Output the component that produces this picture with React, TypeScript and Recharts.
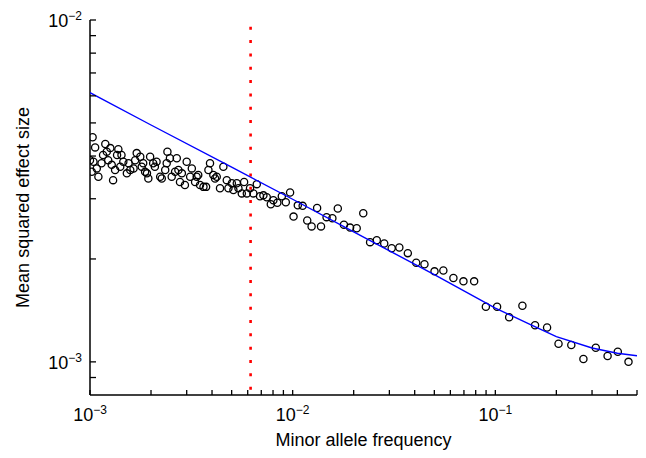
import React from 'react';
import { ScatterChart, Scatter, XAxis, YAxis, ReferenceLine } from 'recharts';

// binned minor allele frequency vs. mean squared effect size
const mafValues = [
  0.00103, 0.00106, 0.00119, 0.00126, 0.00138, 0.001, 0.00104, 0.00102, 0.0011, 0.00108,
  0.00114, 0.00116, 0.00121, 0.00123, 0.00128, 0.0013, 0.00133, 0.00136, 0.00143, 0.00146,
  0.00141, 0.00152, 0.00155, 0.00158, 0.00164, 0.00167, 0.0017, 0.00177, 0.0018, 0.00183,
  0.00187, 0.00191, 0.00194, 0.00198, 0.00205, 0.00209, 0.00213, 0.00222, 0.00226, 0.00235,
  0.00239, 0.00241, 0.00248, 0.00253, 0.00263, 0.00268, 0.00273, 0.00278, 0.00284, 0.00294,
  0.003, 0.00312, 0.00318, 0.0033, 0.00336, 0.00342, 0.00349, 0.00363, 0.00374, 0.00384,
  0.00391, 0.00406, 0.00414, 0.00422, 0.00438, 0.00455, 0.00473, 0.00482, 0.00501, 0.0051,
  0.0053, 0.0054, 0.00561, 0.00576, 0.00594, 0.00616, 0.0064, 0.00665, 0.0069, 0.00717,
  0.00745, 0.0078, 0.00803, 0.0084, 0.00884, 0.00925, 0.00971, 0.0101, 0.0106, 0.0112,
  0.0118, 0.0124, 0.0132, 0.0138, 0.0147, 0.0157, 0.0167, 0.0179, 0.0192, 0.0207,
  0.0223, 0.0241, 0.026, 0.0283, 0.0308, 0.0336, 0.037, 0.0407, 0.0447, 0.0501,
  0.0554, 0.0621, 0.0696, 0.0786, 0.0898, 0.102, 0.117, 0.136, 0.157, 0.18,
  0.205, 0.237, 0.272, 0.313, 0.358, 0.402, 0.454,
];

const effectValues = [
  0.00454, 0.00424, 0.00434, 0.00422, 0.00419, 0.00389, 0.00385, 0.0036, 0.00348, 0.00368,
  0.00381, 0.00403, 0.00412, 0.00389, 0.00377, 0.0034, 0.00364, 0.00403, 0.00403, 0.00385,
  0.00372, 0.00356, 0.00381, 0.00364, 0.00368, 0.00389, 0.00408, 0.00398, 0.00372, 0.00381,
  0.0036, 0.00356, 0.00344, 0.00398, 0.00381, 0.00372, 0.00385, 0.00348, 0.00344, 0.00364,
  0.00381, 0.00412, 0.00394, 0.00348, 0.0036, 0.00394, 0.00364, 0.00336, 0.00356, 0.00329,
  0.00385, 0.00348, 0.00368, 0.00336, 0.00348, 0.00352, 0.00329, 0.00325, 0.00325, 0.00364,
  0.00381, 0.00352, 0.00344, 0.00348, 0.00322, 0.00372, 0.0034, 0.00322, 0.00333, 0.00318,
  0.00333, 0.00322, 0.00311, 0.00336, 0.00311, 0.00322, 0.00311, 0.00331, 0.00305, 0.00307,
  0.00303, 0.00289, 0.00297, 0.00292, 0.00305, 0.00293, 0.00313, 0.00266, 0.00287, 0.00286,
  0.00259, 0.00249, 0.00282, 0.00249, 0.00265, 0.00263, 0.00281, 0.00252, 0.00247, 0.00246,
  0.00272, 0.00224, 0.00227, 0.00222, 0.00215, 0.00216, 0.00208, 0.00195, 0.00193, 0.00184,
  0.00185, 0.00176, 0.00172, 0.00172, 0.00145, 0.00145, 0.00135, 0.00146, 0.00128, 0.00126,
  0.00113, 0.00112, 0.00102, 0.0011, 0.00104, 0.00107, 0.001,
];

// fitted curve
const fitMaf = [0.001, 0.002, 0.005, 0.01, 0.02, 0.05, 0.1, 0.15, 0.2, 0.3, 0.4, 0.5];
const fitEffect = [0.00613, 0.00493, 0.00371, 0.00299, 0.0024, 0.0018, 0.001437, 0.001282, 0.001186, 0.001098, 0.00106, 0.001042];

const cutoffMaf = 0.0062;

const xTicks = [
  0.001, 0.002, 0.003, 0.004, 0.005, 0.006, 0.007, 0.008, 0.009,
  0.01, 0.02, 0.03, 0.04, 0.05, 0.06, 0.07, 0.08, 0.09,
  0.1, 0.2, 0.3, 0.4, 0.5,
];
const yTicks = [0.0009, 0.001, 0.002, 0.003, 0.004, 0.005, 0.006, 0.007, 0.008, 0.009, 0.01];

const points = mafValues.map((x, i) => ({ x, y: effectValues[i] }));
const fitLine = fitMaf.map((x, i) => ({ x, y: fitEffect[i] }));

const FONT = '"Liberation Sans", Arial, Helvetica, sans-serif';

const isDecade = (v: number) => Math.abs(Math.log10(v) - Math.round(Math.log10(v))) < 1e-6;
const expOf = (v: number) => -Math.round(Math.log10(v));

const XTick = ({ x, y, payload }: any) => {
  const v = payload.value;
  return (
    <g>
      <line x1={x} y1={y} x2={x} y2={y - 5} stroke="#000" strokeWidth={1.3} />
      {isDecade(v) && (
        <text x={x} y={y + 26} textAnchor="middle" fontSize={18} fontFamily={FONT} fill="#000">
          10<tspan dy={-7} fontSize={12}>{'\u2212' + expOf(v)}</tspan>
        </text>
      )}
    </g>
  );
};

const YTick = ({ x, y, payload }: any) => {
  const v = payload.value;
  return (
    <g>
      <line x1={x} y1={y} x2={x + 6} y2={y} stroke="#000" strokeWidth={1.3} />
      {isDecade(v) && (
        <text x={x - 8} y={y + 7} textAnchor="end" fontSize={18} fontFamily={FONT} fill="#000">
          10<tspan dy={-7} fontSize={12}>{'\u2212' + expOf(v)}</tspan>
        </text>
      )}
    </g>
  );
};

const Ring = ({ cx, cy }: any) => (
  <circle cx={cx} cy={cy} r={3.6} fill="none" stroke="#000" strokeWidth={1.3} />
);

const NoDot = () => <g />;

export default function App() {
  return (
    <div style={{ position: 'absolute', left: 0, top: 0, width: 646, height: 458, background: '#fff' }}>
      <ScatterChart width={646} height={458} margin={{ top: 20, right: 9, bottom: 13, left: 10 }}>
        <XAxis
          type="number"
          dataKey="x"
          scale="log"
          domain={[0.001, 0.5]}
          allowDataOverflow
          ticks={xTicks}
          interval={0}
          tick={<XTick />}
          tickLine={false}
          tickSize={0}
          tickMargin={0}
          height={50}
          axisLine={{ stroke: '#000', strokeWidth: 1.5 }}
          label={() => (
            <text x={363.5} y={446} textAnchor="middle" fontSize={18} fontFamily={FONT} fill="#000">
              Minor allele frequency
            </text>
          )}
        />
        <YAxis
          type="number"
          dataKey="y"
          scale="log"
          domain={[0.0008, 0.01]}
          allowDataOverflow
          ticks={yTicks}
          interval={0}
          tick={<YTick />}
          tickLine={false}
          tickSize={0}
          tickMargin={0}
          width={80}
          axisLine={{ stroke: '#000', strokeWidth: 1.5 }}
          label={() => (
            <text
              x={29}
              y={207.5}
              transform="rotate(-90, 29, 207.5)"
              textAnchor="middle"
              fontSize={18}
              fontFamily={FONT}
              fill="#000"
            >
              Mean squared effect size
            </text>
          )}
        />
        <Scatter data={points} shape={<Ring />} isAnimationActive={false} />
        <Scatter
          data={fitLine}
          line={{ stroke: '#0000ff', strokeWidth: 1.4 }}
          lineType="joint"
          shape={<NoDot />}
          isAnimationActive={false}
        />
        <ReferenceLine
          x={cutoffMaf}
          stroke="#ff0000"
          strokeWidth={2.6}
          strokeDasharray="3 10.33"
          strokeDashoffset={8}
        />
      </ScatterChart>
    </div>
  );
}
